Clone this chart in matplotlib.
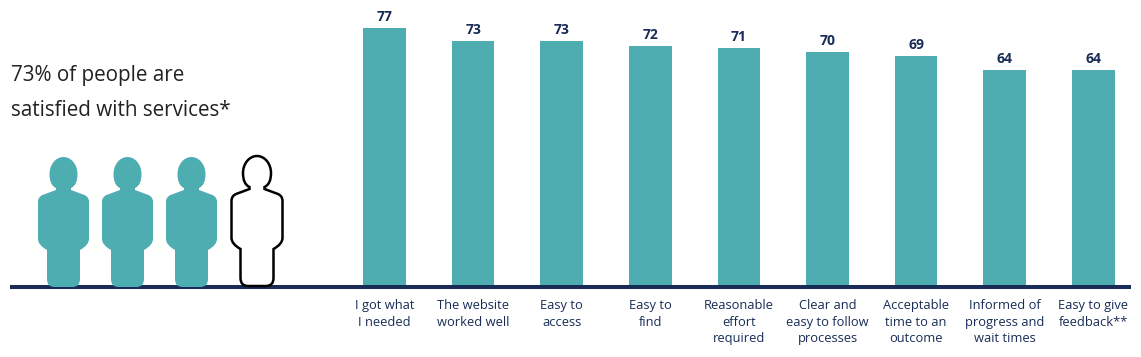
import matplotlib
matplotlib.use("Agg")
import matplotlib.pyplot as plt
from matplotlib.path import Path
from matplotlib.patches import PathPatch

categories = ["I got what\nI needed", "The website\nworked well", "Easy to\naccess",
              "Easy to\nfind", "Reasonable\neffort\nrequired", "Clear and\neasy to follow\nprocesses",
              "Acceptable\ntime to an\noutcome", "Informed of\nprogress and\nwait times",
              "Easy to give\nfeedback**"]
# bar heights, the labels show them rounded
values = [76.9, 73.0, 73.0, 71.6, 70.9, 69.8, 68.6, 64.4, 64.4]
heading = ["73% of people are", "satisfied with services*"]
filled_people = 3
total_people = 4

TEAL = "#4DADB1"
NAVY = "#182C55"
W, H = 1141, 357
PX_PER_UNIT = 3.37
STEP = 88.6

plt.rcParams["font.family"] = ["Open Sans", "DejaVu Sans"]
fig = plt.figure(figsize=(W / 100, H / 100), dpi=100)

# bars
ax = fig.add_axes([10 / W, (H - 287) / H, 1121 / W, 287 / H])
ax.bar(range(len(values)), values, width=42.5 / STEP, color=TEAL, zorder=2)
ax.set_xlim((10 - 384.5) / STEP, (1131 - 384.5) / STEP)
ax.set_ylim(0, 287 / PX_PER_UNIT)
for i, v in enumerate(values):
    ax.annotate(f"{v:.0f}", (i, v), xytext=(0, 2.6), textcoords="offset points", ha="center", va="bottom",
                fontsize=10, fontweight="bold", color=NAVY)
ax.set_xticks(range(len(values)))
ax.set_xticklabels(categories, fontsize=9.3, color=NAVY, linespacing=1.37)
ax.tick_params(axis="x", length=0, pad=8.6)
ax.set_yticks([])
for s in ["top", "left", "right"]:
    ax.spines[s].set_visible(False)
ax.spines["bottom"].set_color(NAVY)
ax.spines["bottom"].set_linewidth(2.9)
ax.spines["bottom"].set_capstyle("butt")
ax.spines["bottom"].set_zorder(3)
ax.patch.set_alpha(0)

# overlay in pixel coordinates for the heading and pictogram
ov = fig.add_axes([0, 0, 1, 1])
ov.set_xlim(0, W)
ov.set_ylim(H, 0)
ov.axis("off")
ov.patch.set_alpha(0)

ov.text(11, 75, heading[0], fontsize=14.85, color="#222222", va="center", ha="left")
ov.text(11, 110, heading[1], fontsize=14.85, color="#222222", va="center", ha="left")


def person_path(cx, top):
    # outline of the figure, offsets in pixels from head top centre
    verts = [(cx - 7.5, top + 31)]
    codes = [Path.MOVETO]

    def line(dx, dy):
        verts.append((cx + dx, top + dy))
        codes.append(Path.LINETO)

    def curve(dx1, dy1, dx2, dy2):
        verts.extend([(cx + dx1, top + dy1), (cx + dx2, top + dy2)])
        codes.extend([Path.CURVE3, Path.CURVE3])

    def cubic(dx1, dy1, dx2, dy2, dx3, dy3):
        verts.extend([(cx + dx1, top + dy1), (cx + dx2, top + dy2), (cx + dx3, top + dy3)])
        codes.extend([Path.CURVE4, Path.CURVE4, Path.CURVE4])

    # head
    cubic(-12, 29, -14, 24, -14, 17)
    cubic(-14, 8, -8, 0, 0, 0)
    cubic(8, 0, 14, 8, 14, 17)
    cubic(14, 24, 12, 29, 7.5, 31)
    line(7.5, 33)
    line(21, 38)
    curve(25.5, 40, 25.5, 45)
    line(25.5, 82)
    curve(25.5, 88, 16.5, 93)
    line(16.5, 122)
    curve(16.5, 130, 9, 130)
    line(-9, 130)
    curve(-16.5, 130, -16.5, 122)
    line(-16.5, 93)
    curve(-25.5, 88, -25.5, 82)
    line(-25.5, 45)
    curve(-25.5, 40, -21, 38)
    line(-7.5, 33)
    line(-7.5, 31)
    verts.append((cx - 7.5, top + 31))
    codes.append(Path.CLOSEPOLY)
    return Path(verts, codes)


for i in range(total_people):
    if i < filled_people:
        ov.add_patch(PathPatch(person_path(63.5 + 64 * i, 157), facecolor=TEAL, edgecolor="none", zorder=2))
    else:
        ov.add_patch(PathPatch(person_path(257, 156), facecolor="white", edgecolor="black", lw=1.8, zorder=4))

fig.savefig("out.png", dpi=100)
